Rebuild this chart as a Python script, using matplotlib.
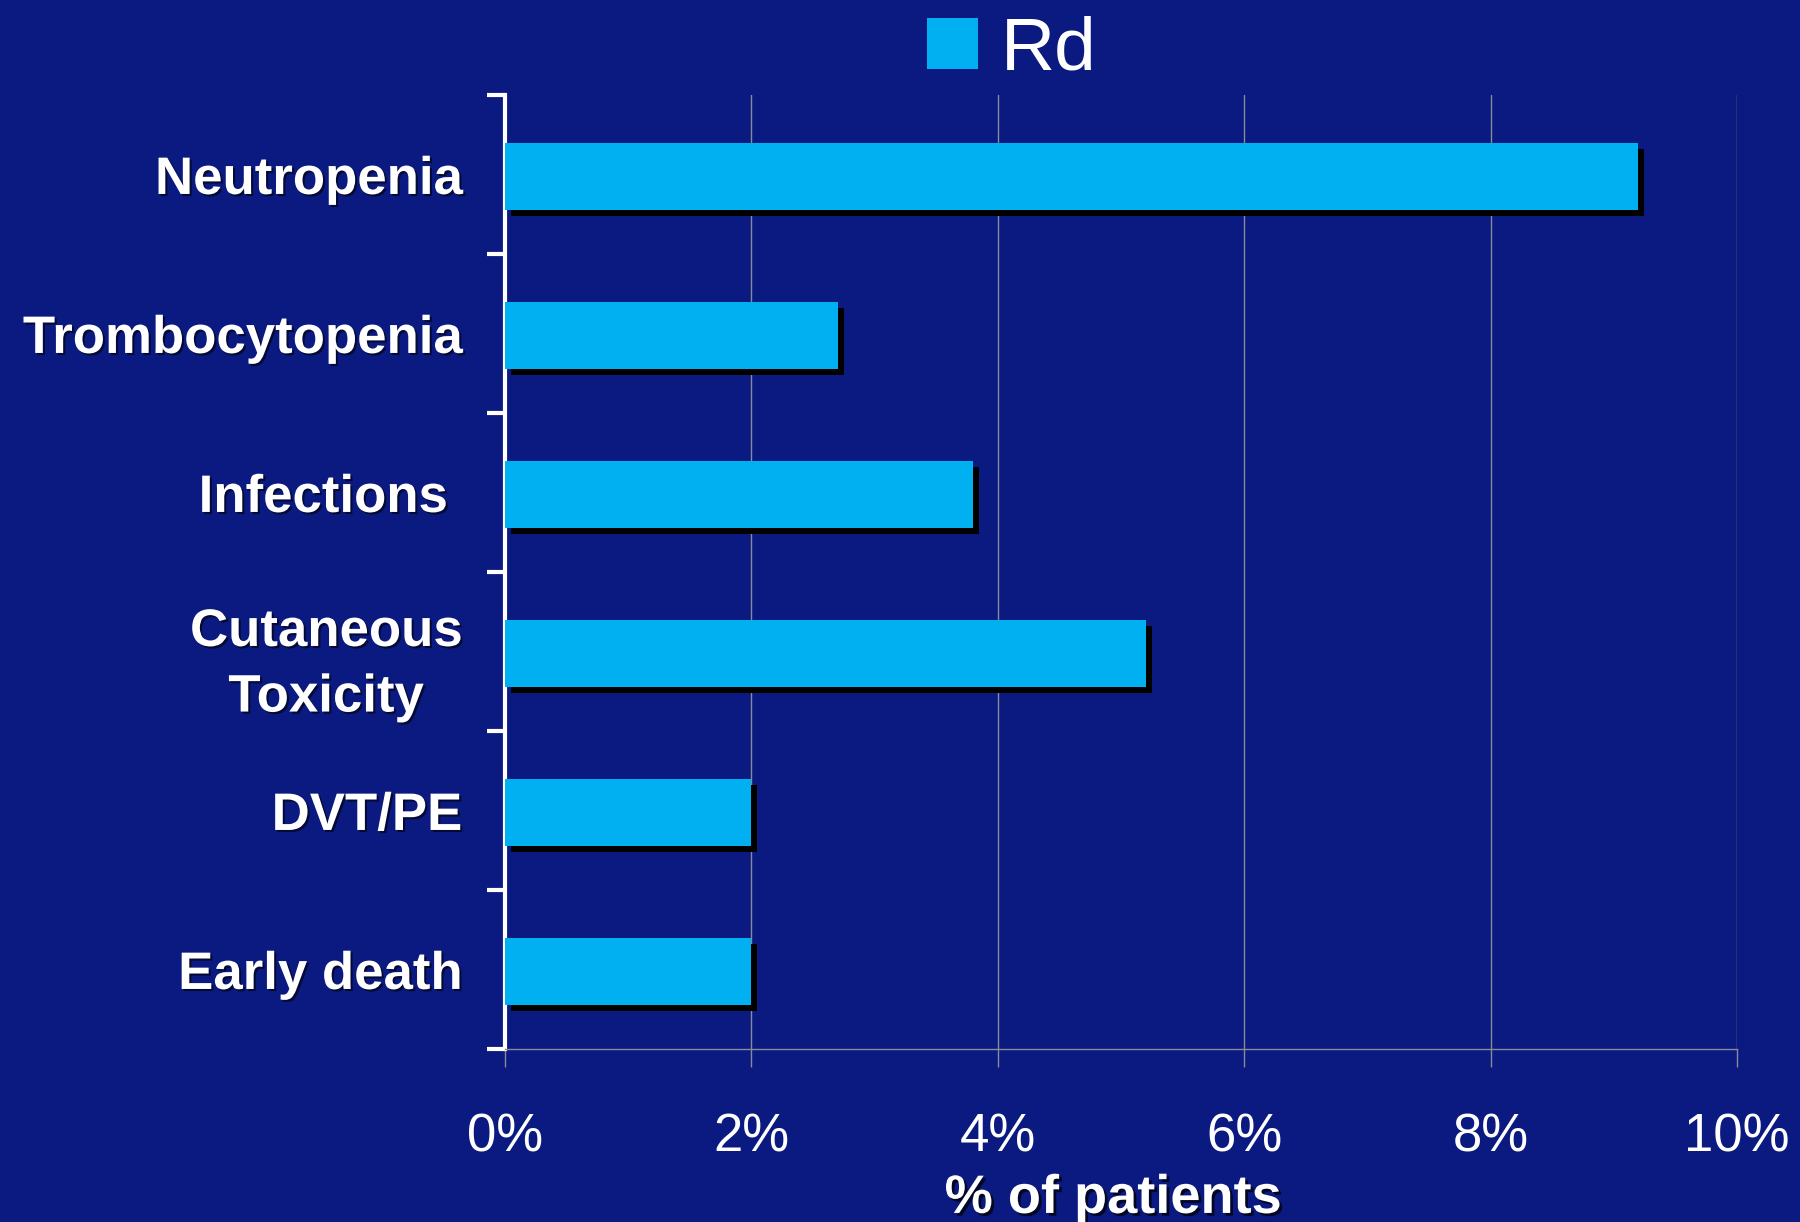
import numpy as np
import matplotlib.pyplot as plt
import matplotlib.patheffects as pe
from matplotlib.patches import Patch

plt.rcParams['font.family'] = ['Liberation Sans', 'DejaVu Sans']

# Data
categories = ['Neutropenia', 'Trombocytopenia', 'Infections ', 'Cutaneous\nToxicity', 'DVT/PE', 'Early death']
rd_values = [9.2, 2.7, 3.8, 5.2, 2.0, 2.0]
x_ticks = [0, 2, 4, 6, 8, 10]
x_tick_labels = ['0%', '2%', '4%', '6%', '8%', '10%']
series_name = 'Rd'

bg = '#0a1a80'
bar_color = '#00b0f0'
grid_color = '#8a8a9a'

fig = plt.figure(figsize=(18, 12.22), dpi=100, facecolor=bg)
ax = fig.add_axes([0.2806, 0.1416, 0.6844, 0.7807])
ax.set_facecolor(bg)

y = np.arange(len(categories))
bars = ax.barh(y + 0.015, rd_values, height=0.42, color=bar_color, zorder=3)
for b in bars:
    b.set_path_effects([pe.SimplePatchShadow(offset=(4.3, -4.3), shadow_rgbFace='black', alpha=1.0),
                        pe.Normal()])

ax.set_xlim(0, 10)
ax.set_ylim(len(categories) - 0.5, -0.5)

# x axis: gridlines + gray ticks
ax.set_xticks(x_ticks)
ax.set_xticklabels(x_tick_labels)
ax.tick_params(axis='x', direction='out', length=13, width=1, color=grid_color,
               labelsize=38, labelcolor='white', pad=33)
ax.xaxis.grid(True, color=grid_color, linewidth=1, zorder=0)
ax.set_axisbelow(True)

# y axis: boundary ticks (major) and centered labels (minor)
ax.set_yticks(np.arange(-0.5, len(categories), 1.0))
ax.set_yticklabels([])
ax.tick_params(axis='y', which='major', direction='out', length=13, width=3, color='white')
ax.set_yticks(y, minor=True)
ax.set_yticklabels(categories, minor=True, fontsize=38, fontweight='bold', color='white',
                   multialignment='center', linespacing=1.4)
ax.tick_params(axis='y', which='minor', length=0, pad=31)

for lbl in ax.get_yticklabels(minor=True):
    lbl.set_path_effects([pe.SimplePatchShadow(offset=(1.5, -1.5), shadow_rgbFace='black', alpha=0.6),
                          pe.Normal()])

for s in ['top', 'right']:
    ax.spines[s].set_visible(False)
ax.spines['left'].set_color('white')
ax.spines['left'].set_linewidth(3)
ax.spines['bottom'].set_color(grid_color)
ax.spines['bottom'].set_linewidth(1)

xl = ax.set_xlabel('% of patients', fontsize=39, fontweight='bold', color='white', va='top')
ax.xaxis.set_label_coords(0.4935, -0.131)
xl.set_path_effects([pe.SimplePatchShadow(offset=(2, -2), shadow_rgbFace='black', alpha=0.7),
                     pe.Normal()])

leg = fig.legend(handles=[Patch(facecolor=bar_color, label=series_name)],
                 loc='center', bbox_to_anchor=(0.562, 0.959), frameon=False,
                 fontsize=54, handlelength=0.68, handleheight=0.68,
                 handletextpad=0.3, borderpad=0)
for t in leg.get_texts():
    t.set_color('white')

fig.savefig('out.png', dpi=100, facecolor=bg)
